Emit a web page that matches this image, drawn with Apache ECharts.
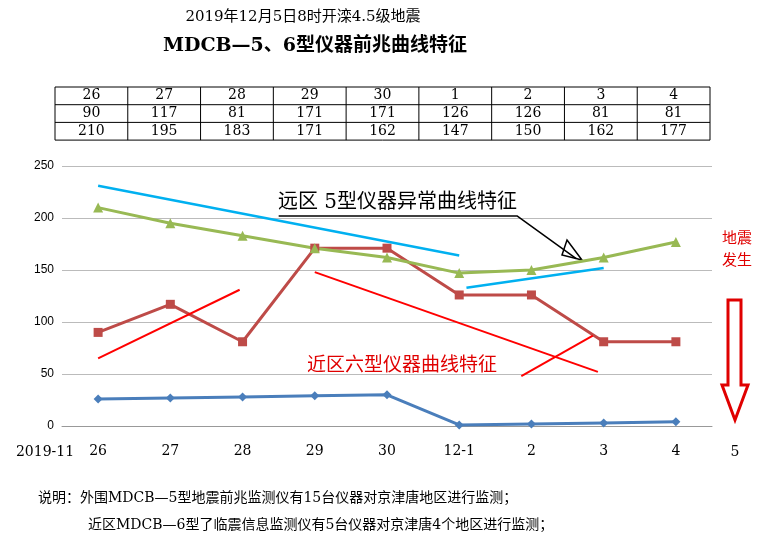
<!DOCTYPE html>
<html lang="zh">
<head>
<meta charset="UTF-8">
<title>MDCB-5、6型仪器前兆曲线特征</title>
<style>
  html, body { margin: 0; padding: 0; background: #fff; }
  #chart { width: 771px; height: 553px; }
</style>
</head>
<body>
<div id="chart"></div>
<script src="https://cdn.jsdelivr.net/npm/echarts@6/dist/echarts.min.js"></script>
<script>
// 数据
var days = ['26', '27', '28', '29', '30', '12-1', '2', '3', '4'];
var tableDays = ['26', '27', '28', '29', '30', '1', '2', '3', '4'];
var farBlue = [26, 27, 28, 29, 30, 1, 2, 3, 4];
var nearRed = [90, 117, 81, 171, 171, 126, 126, 81, 81];
var nearGreen = [210, 195, 183, 171, 162, 147, 150, 162, 177];
var yTicks = [0, 50, 100, 150, 200, 250];

// 手绘标注线（数据坐标）
var blueLine1 = [[0, 231], [5, 164]];
var blueLine2 = [[5.1, 133], [7, 152]];
var redLine1 = [[0, 65], [1.96, 131]];
var redLine2 = [[3, 148], [6.92, 52]];
var redLine3 = [[5.86, 48], [6.85, 87]];
var blackLine = [[2.5, 202], [5.8, 202], [6.62, 161]];

var chart = echarts.init(document.getElementById('chart'));
var serif = '"DejaVu Serif", "Noto Sans CJK SC", serif';

function idx(arr) { return arr.map(function (v, i) { return [i, v]; }); }
function deco(data, color, w) {
    return { type: 'line', data: data, symbol: 'none', silent: true, z: 5,
             lineStyle: { color: color, width: w || 2.5 } };
}

// 表格
var graphics = [];
var tx = 55, tw = 655, ty = 87, rh = 17.7, cw = tw / 9;
var rows = [tableDays, nearRed, nearGreen];
for (var r = 0; r <= 3; r++) {
    graphics.push({ type: 'line', shape: { x1: tx, y1: ty + r * rh, x2: tx + tw, y2: ty + r * rh },
                    style: { stroke: '#000', lineWidth: 1 } });
}
for (var c = 0; c <= 9; c++) {
    graphics.push({ type: 'line', shape: { x1: tx + c * cw, y1: ty, x2: tx + c * cw, y2: ty + 3 * rh },
                    style: { stroke: '#000', lineWidth: 1 } });
}
rows.forEach(function (row, r) {
    row.forEach(function (v, c) {
        graphics.push({ type: 'text', x: tx + c * cw + cw / 2, y: ty + r * rh + rh / 2,
            style: { text: String(v), font: '14px ' + serif, fill: '#000', align: 'center', verticalAlign: 'middle' } });
    });
});

graphics.push(
    { type: 'text', x: 303, y: 17, style: { text: '2019年12月5日8时开滦4.5级地震', font: '15px ' + serif, fill: '#000', align: 'center', verticalAlign: 'middle' } },
    { type: 'text', x: 315, y: 46, style: { text: 'MDCB—5、6型仪器前兆曲线特征', font: 'bold 19px ' + serif, fill: '#000', align: 'center', verticalAlign: 'middle' } },
    { type: 'text', x: 45, y: 452, style: { text: '2019-11', font: '14px ' + serif, fill: '#000', align: 'center', verticalAlign: 'middle' } },
    { type: 'text', x: 735, y: 452, style: { text: '5', font: '14px ' + serif, fill: '#000', align: 'center', verticalAlign: 'middle' } },
    { type: 'text', x: 278, y: 203, style: { text: '远区 5型仪器异常曲线特征', font: '20px ' + serif, fill: '#000', verticalAlign: 'middle' } },
    { type: 'text', x: 307, y: 366, style: { text: '近区六型仪器曲线特征', font: '19px ' + serif, fill: '#e00000', verticalAlign: 'middle' } },
    { type: 'text', x: 737, y: 250, style: { text: '地震\n发生', font: '15px ' + serif, fill: '#e00000', align: 'center', verticalAlign: 'middle', lineHeight: 22 } },
    { type: 'polygon', shape: { points: [[728, 300], [741, 300], [741, 385], [748, 385], [735, 420], [722, 385], [728, 385]] },
      style: { fill: '#fff', stroke: '#e00000', lineWidth: 3 } },
    { type: 'polygon', shape: { points: [[567, 240], [582, 260], [562, 255]] },
      style: { fill: '#fff', stroke: '#000', lineWidth: 1.5 } },
    { type: 'text', x: 38, y: 498, style: { text: '说明：外围MDCB—5型地震前兆监测仪有15台仪器对京津唐地区进行监测；', font: '14px ' + serif, fill: '#000', verticalAlign: 'middle' } },
    { type: 'text', x: 88, y: 525, style: { text: '近区MDCB—6型了临震信息监测仪有5台仪器对京津唐4个地区进行监测；', font: '14px ' + serif, fill: '#000', verticalAlign: 'middle' } }
);

var option = {
    animation: false,
    grid: { left: 62, top: 166, width: 650, height: 260 },
    xAxis: {
        type: 'value', min: -0.5, max: 8.5,
        axisLine: { lineStyle: { color: '#999' } }, axisTick: { show: false }, splitLine: { show: false },
        axisLabel: { margin: 18, color: '#000', fontSize: 14, fontFamily: serif,
            customValues: [0, 1, 2, 3, 4, 5, 6, 7, 8],
            formatter: function (v) { return days[Math.round(v)] || ''; } }
    },
    yAxis: {
        type: 'value', min: 0, max: 250, interval: 50,
        axisLine: { show: false }, axisTick: { show: false },
        splitLine: { lineStyle: { color: '#bbb' } },
        axisLabel: { color: '#000', fontSize: 12, formatter: function (v) { return yTicks.indexOf(v) >= 0 ? v : ''; } }
    },
    graphic: graphics,
    series: [
        { type: 'line', data: idx(farBlue), symbol: 'diamond', symbolSize: 9,
          lineStyle: { color: '#4a7ebb', width: 3 }, itemStyle: { color: '#4a7ebb' }, z: 3 },
        { type: 'line', data: idx(nearRed), symbol: 'rect', symbolSize: 9,
          lineStyle: { color: '#be4b48', width: 3 }, itemStyle: { color: '#be4b48' }, z: 3 },
        { type: 'line', data: idx(nearGreen), symbol: 'triangle', symbolSize: 10,
          lineStyle: { color: '#98b954', width: 3 }, itemStyle: { color: '#98b954' }, z: 3 },
        deco(blueLine1, '#00b0f0'),
        deco(blueLine2, '#00b0f0'),
        deco(redLine1, '#ff0000', 2),
        deco(redLine2, '#ff0000', 2),
        deco(redLine3, '#ff0000', 2),
        deco(blackLine, '#000', 1.5)
    ]
};
chart.setOption(option);
</script>
</body>
</html>
